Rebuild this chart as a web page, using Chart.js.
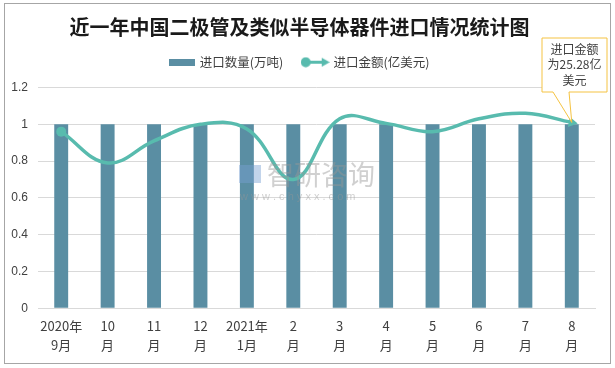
<!DOCTYPE html>
<html lang="zh">
<head>
<meta charset="UTF-8">
<title>近一年中国二极管及类似半导体器件进口情况统计图</title>
<script src="https://cdn.jsdelivr.net/npm/chart.js"></script>
<style>
  html, body { margin: 0; padding: 0; background: #fff; }
  #wrap { width: 615px; height: 368px; }
</style>
</head>
<body>
<div id="wrap"><canvas id="grafico" width="615" height="368"></canvas></div>
<script>
// dados
const meses = [["2020年","9月"],["10","月"],["11","月"],["12","月"],["2021年","1月"],["2","月"],["3","月"],["4","月"],["5","月"],["6","月"],["7","月"],["8","月"]];
const quantidade = [1, 1, 1, 1, 1, 1, 1, 1, 1, 1, 1, 1];
const valor = [0.96, 0.79, 0.91, 1.0, 0.975, 0.70, 1.03, 1.005, 0.96, 1.03, 1.06, 1.01];
const nomeBarra = "进口数量(万吨)";
const nomeLinha = "进口金额(亿美元)";
const nota = ["进口金额", "为25.28亿", "美元"];

const corBarra = "#5a8ea3";
const corLinha = "#58bbae";
const fonte = "'Noto Sans CJK SC', 'Liberation Sans', sans-serif";

// ícones da legenda
function iconeBarra() {
  const c = document.createElement("canvas");
  c.width = 26; c.height = 7;
  const g = c.getContext("2d");
  g.fillStyle = corBarra;
  g.fillRect(0, 0, 26, 7);
  return c;
}
function iconeLinha() {
  const c = document.createElement("canvas");
  c.width = 29; c.height = 11;
  const g = c.getContext("2d");
  g.strokeStyle = corLinha; g.fillStyle = corLinha; g.lineWidth = 3;
  g.beginPath(); g.moveTo(5, 5.5); g.lineTo(22, 5.5); g.stroke();
  g.beginPath(); g.arc(5, 5.5, 5, 0, Math.PI * 2); g.fill();
  g.beginPath(); g.moveTo(29, 5.5); g.lineTo(21, 1); g.lineTo(21, 10); g.closePath(); g.fill();
  return c;
}

const n = valor.length;
const raios = valor.map((v, i) => i === 0 ? 5 : (i === n - 1 ? 6 : 0));
const estilos = valor.map((v, i) => i === n - 1 ? "triangle" : "circle");
const rotacoes = valor.map((v, i) => i === n - 1 ? 100 : 0);

const moldura = {
  id: "moldura",
  beforeInit(chart) {
    // espaço extra entre a legenda e o gráfico
    const fitOriginal = chart.legend.fit;
    chart.legend.fit = function () {
      fitOriginal.call(this);
      this.height += 9;
    };
  },
  beforeDraw(chart) {
    const g = chart.ctx;
    g.save();
    g.fillStyle = "#fff";
    g.fillRect(0, 0, chart.width, chart.height);
    g.strokeStyle = "#a6a6a6";
    g.lineWidth = 1;
    g.strokeRect(4.5, 3.5, chart.width - 9, chart.height - 8);
    g.restore();
  },
  afterDatasetsDraw(chart) {
    const g = chart.ctx;
    // marca d'água
    g.save();
    g.fillStyle = "rgba(150,150,150,0.45)";
    g.font = "27px " + fonte;
    g.textAlign = "left";
    g.textBaseline = "middle";
    g.fillText("智研咨询", 267, 175);
    g.font = "11px 'Liberation Sans', sans-serif";
    g.fillText("w w w . c h y x x . c o m", 240, 197);
    g.fillStyle = "rgba(120,160,210,0.45)";
    g.fillRect(239, 165, 22, 18);
    g.restore();

    // caixa de nota
    const meta = chart.getDatasetMeta(1);
    const p = meta.data[n - 1];
    const x0 = 542, y0 = 38, w = 65, h = 54;
    g.save();
    g.strokeStyle = "#f5c342";
    g.lineWidth = 1;
    g.fillStyle = "#fff";
    g.beginPath();
    g.moveTo(x0, y0);
    g.lineTo(x0 + w, y0);
    g.lineTo(x0 + w, y0 + h);
    g.lineTo(569, y0 + h);
    g.lineTo(p.x, p.y);
    g.lineTo(553, y0 + h);
    g.lineTo(x0, y0 + h);
    g.closePath();
    g.fill();
    g.stroke();
    g.fillStyle = "#404040";
    g.font = "12px " + fonte;
    g.textAlign = "center";
    g.textBaseline = "middle";
    nota.forEach((t, i) => g.fillText(t, x0 + w / 2, y0 + 11 + i * 15.5));
    g.restore();
  }
};

const ctx = document.getElementById("grafico");
new Chart(ctx, {
  data: {
    labels: meses,
    datasets: [{
      type: "bar",
      label: nomeBarra,
      data: quantidade,
      backgroundColor: corBarra,
      barPercentage: 0.6,
      categoryPercentage: 0.5,
      order: 2
    }, {
      type: "line",
      label: nomeLinha,
      data: valor,
      borderColor: corLinha,
      backgroundColor: corLinha,
      borderWidth: 3.5,
      tension: 0.4,
      pointRadius: raios,
      pointStyle: estilos,
      pointRotation: rotacoes,
      pointBorderWidth: 0,
      pointHoverRadius: raios,
      order: 1
    }]
  },
  options: {
    responsive: false,
    animation: false,
    devicePixelRatio: 1,
    layout: { padding: { left: 4, right: 20, top: 0, bottom: 14 } },
    plugins: {
      title: {
        display: true,
        text: "近一年中国二极管及类似半导体器件进口情况统计图",
        color: "#1a1a1a",
        font: { family: fonte, size: 20, weight: "bold", lineHeight: 0.85 },
        padding: { top: 19, bottom: 0 }
      },
      legend: {
        display: true,
        labels: {
          usePointStyle: true,
          pointStyleWidth: 24,
          color: "#404040",
          font: { family: fonte, size: 12.5 },
          padding: 20,
          generateLabels(chart) {
            return chart.data.datasets.map((d, i) => ({
              text: d.label,
              pointStyle: i === 0 ? iconeBarra() : iconeLinha(),
              fontColor: "#404040",
              lineWidth: 0,
              datasetIndex: i
            }));
          }
        }
      },
      tooltip: { enabled: false }
    },
    scales: {
      x: {
        grid: { display: false },
        border: { color: "#d9d9d9" },
        ticks: {
          color: "#404040",
          font: { family: fonte, size: 13, lineHeight: 1.45 },
          maxRotation: 0,
          autoSkip: false,
          padding: 0
        }
      },
      y: {
        min: 0,
        max: 1.2,
        afterFit(scale) { scale.width = 34; },
        grid: { color: "#d9d9d9", drawTicks: false },
        border: { display: false },
        ticks: {
          stepSize: 0.2,
          color: "#404040",
          font: { family: "'Liberation Sans', sans-serif", size: 12 },
          padding: 10,
          callback: v => String(Number(v.toFixed(1)))
        }
      }
    }
  },
  plugins: [moldura]
});
</script>
</body>
</html>
